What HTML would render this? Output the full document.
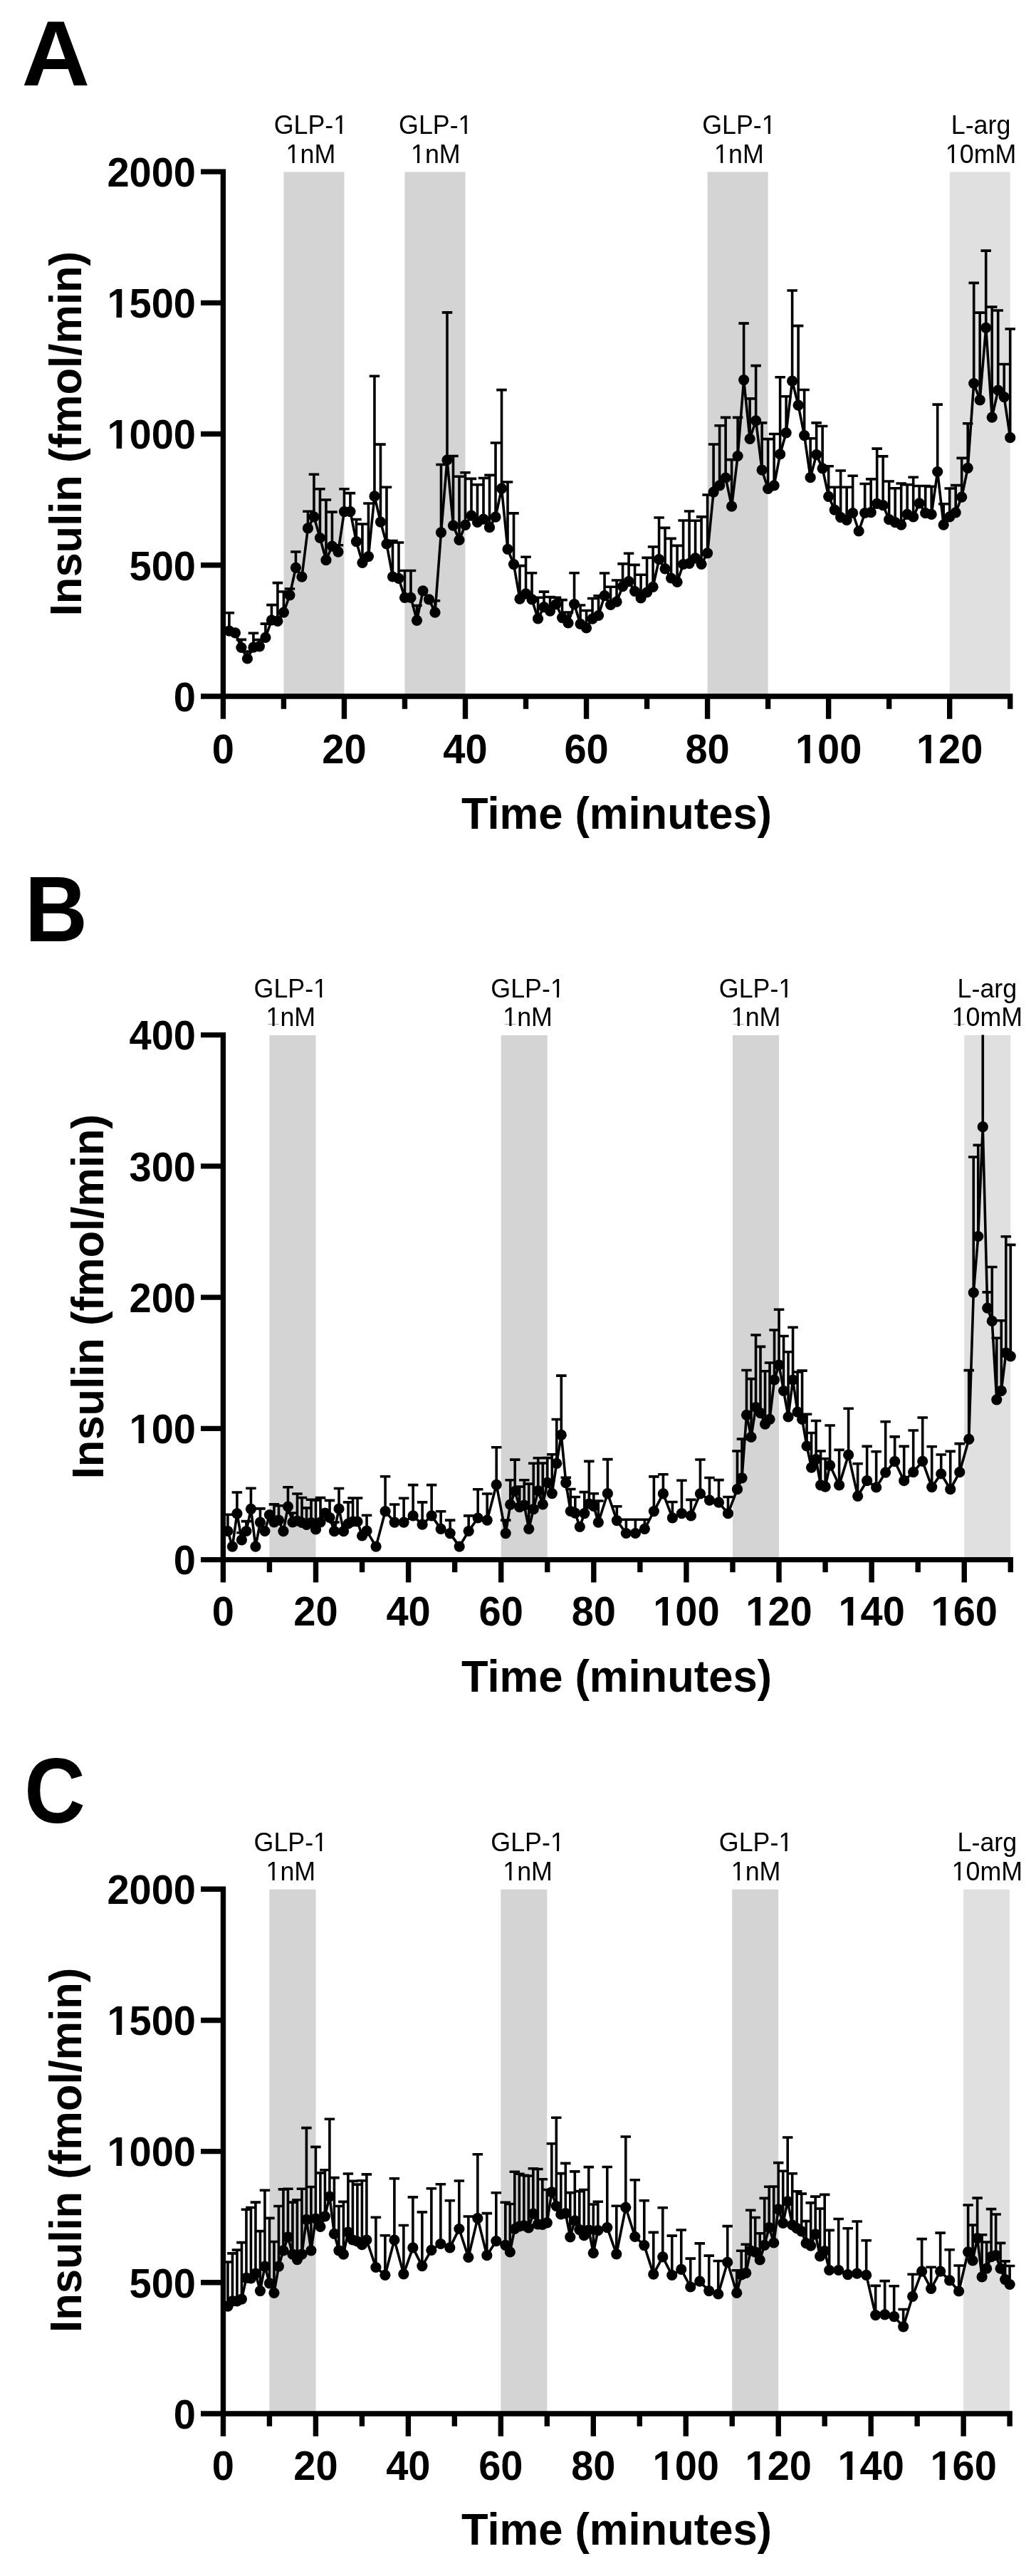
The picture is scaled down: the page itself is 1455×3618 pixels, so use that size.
<!DOCTYPE html>
<html><head><meta charset="utf-8"><style>
html,body{margin:0;padding:0;background:#fff;}
svg{display:block;will-change:transform;}
text{font-family:"Liberation Sans", sans-serif;fill:#000;}
</style></head><body>
<svg width="1455" height="3618" viewBox="0 0 1455 3618">
<rect x="398.42" y="241.50" width="85.02" height="736.50" fill="#d4d4d4"/>
<rect x="568.47" y="241.50" width="85.03" height="736.50" fill="#d4d4d4"/>
<rect x="993.60" y="241.50" width="85.03" height="736.50" fill="#d4d4d4"/>
<rect x="1333.70" y="241.50" width="85.03" height="736.50" fill="#e0e0e0"/>
<path d="M321.90 886.20V860.80M314.65 860.80H329.15M338.91 909.50V898.40M331.66 898.40H346.16M347.41 925.00V915.00M340.16 915.00H354.66M355.91 909.20V889.20M348.66 889.20H363.16M364.41 907.80V898.60M357.16 898.60H371.66M372.92 895.30V876.10M365.67 876.10H380.17M381.42 871.00V849.60M374.17 849.60H388.67M389.92 872.30V818.60M382.67 818.60H397.17M398.42 860.10V831.00M391.17 831.00H405.67M406.93 835.80V827.00M399.68 827.00H414.18M415.43 797.30V775.00M408.18 775.00H422.68M432.43 741.90V718.20M425.18 718.20H439.68M440.94 725.90V666.20M433.69 666.20H448.19M449.44 755.50V686.80M442.19 686.80H456.69M457.94 786.70V702.00M450.69 702.00H465.19M466.44 767.10V719.10M459.19 719.10H473.69M474.95 775.10V765.70M467.70 765.70H482.20M483.45 718.60V686.80M476.20 686.80H490.70M491.95 718.60V692.60M484.70 692.60H499.20M500.45 760.60V729.50M493.20 729.50H507.70M508.96 790.30V736.00M501.71 736.00H516.21M517.46 781.60V707.00M510.21 707.00H524.71M525.96 696.90V528.20M518.71 528.20H533.21M534.46 733.10V624.10M527.21 624.10H541.71M542.97 764.00V684.20M535.72 684.20H550.22M551.47 810.00V759.50M544.22 759.50H558.72M559.97 812.40V762.00M552.72 762.00H567.22M568.47 839.40V801.50M561.22 801.50H575.72M576.98 839.40V801.50M569.73 801.50H584.23M585.48 871.30V850.50M578.23 850.50H592.73M610.99 860.20V843.80M603.74 843.80H618.24M619.49 747.80V652.50M612.24 652.50H626.74M627.99 646.00V438.90M620.74 438.90H635.24M636.49 738.20V640.50M629.24 640.50H643.74M645.00 758.50V669.20M637.75 669.20H652.25M653.50 737.30V663.80M646.25 663.80H660.75M662.00 724.20V672.40M654.75 672.40H669.25M670.50 733.40V680.80M663.25 680.80H677.75M679.01 729.10V671.50M671.76 671.50H686.26M687.51 740.70V667.40M680.26 667.40H694.76M696.01 726.20V622.00M688.76 622.00H703.26M704.51 686.10V547.60M697.26 547.60H711.76M713.02 771.40V677.00M705.77 677.00H720.27M721.52 792.60V720.90M714.27 720.90H728.77M730.02 841.20V794.60M722.77 794.60H737.27M738.52 833.80V782.20M731.27 782.20H745.77M747.03 841.90V804.70M739.78 804.70H754.28M755.53 868.90V839.20M748.28 839.20H762.78M764.03 852.70V831.10M756.78 831.10H771.28M772.53 858.10V838.50M765.28 838.50H779.78M781.04 848.60V839.20M773.79 839.20H788.29M789.54 867.60V842.60M782.29 842.60H796.79M798.04 875.00V860.00M790.79 860.00H805.29M806.54 848.60V804.70M799.29 804.70H813.79M815.05 876.40V850.00M807.80 850.00H822.30M823.55 882.00V857.50M816.30 857.50H830.80M832.05 869.10V840.50M824.80 840.50H839.30M840.55 864.50V836.70M833.30 836.70H847.80M849.06 836.70V805.00M841.81 805.00H856.31M857.56 849.50V824.30M850.31 824.30H864.81M866.06 845.20V815.00M858.81 815.00H873.31M874.56 823.60V791.90M867.31 791.90H881.81M883.07 816.60V777.20M875.82 777.20H890.32M891.57 830.50V793.40M884.32 793.40H898.82M900.07 839.80V807.30M892.82 807.30H907.32M908.57 832.00V783.40M901.32 783.40H915.82M917.08 824.30V768.00M909.83 768.00H924.33M925.58 785.70V727.00M918.33 727.00H932.83M934.08 798.80V741.40M926.83 741.40H941.33M942.58 812.00V756.40M935.33 756.40H949.83M951.09 817.40V766.40M943.84 766.40H958.34M959.59 792.50V731.00M952.34 731.00H966.84M968.09 791.30V718.00M960.84 718.00H975.34M976.59 783.80V731.30M969.34 731.30H983.84M985.10 792.30V725.90M977.85 725.90H992.35M993.60 776.80V695.00M986.35 695.00H1000.85M1002.10 691.10V624.00M994.85 624.00H1009.35M1010.60 681.90V597.70M1003.35 597.70H1017.85M1019.11 671.00V586.40M1011.86 586.40H1026.36M1027.61 711.20V645.60M1020.36 645.60H1034.86M1036.11 640.50V586.40M1028.86 586.40H1043.36M1044.61 533.60V454.10M1037.36 454.10H1051.86M1053.12 616.30V559.90M1045.87 559.90H1060.37M1061.62 590.80V513.60M1054.37 513.60H1068.87M1070.12 660.20V593.90M1062.87 593.90H1077.37M1078.62 686.50V616.60M1071.38 616.60H1085.88M1087.13 681.90V609.50M1079.88 609.50H1094.38M1095.63 637.80V529.80M1088.38 529.80H1102.88M1104.13 607.80V556.80M1096.88 556.80H1111.38M1112.63 535.20V408.00M1105.38 408.00H1119.88M1121.14 569.20V457.60M1113.89 457.60H1128.39M1129.64 611.60V547.50M1122.39 547.50H1136.89M1138.14 670.70V615.80M1130.89 615.80H1145.39M1146.64 638.60V593.90M1139.39 593.90H1153.89M1155.15 657.90V598.50M1147.90 598.50H1162.40M1163.65 697.30V654.80M1156.40 654.80H1170.90M1172.15 716.10V684.20M1164.90 684.20H1179.40M1180.65 726.60V661.00M1173.40 661.00H1187.90M1189.16 730.50V684.20M1181.91 684.20H1196.41M1197.66 720.50V668.30M1190.41 668.30H1204.91M1214.66 720.50V679.50M1207.41 679.50H1221.91M1223.17 719.70V672.90M1215.92 672.90H1230.42M1231.67 707.30V630.10M1224.42 630.10H1238.92M1240.17 709.70V640.90M1232.92 640.90H1247.42M1248.67 729.70V676.00M1241.42 676.00H1255.92M1257.18 733.60V685.70M1249.93 685.70H1264.43M1265.68 737.20V679.00M1258.43 679.00H1272.93M1274.18 722.40V680.70M1266.93 680.70H1281.43M1282.68 725.90V670.30M1275.43 670.30H1289.93M1291.19 706.80V682.50M1283.94 682.50H1298.44M1299.69 720.70V682.50M1292.44 682.50H1306.94M1308.19 722.40V683.40M1300.94 683.40H1315.44M1316.69 662.50V568.10M1309.44 568.10H1323.94M1325.20 737.20V707.70M1317.95 707.70H1332.45M1333.70 725.90V686.00M1326.45 686.00H1340.95M1342.20 719.80V681.60M1334.95 681.60H1349.45M1350.70 698.10V643.40M1343.45 643.40H1357.95M1359.21 657.30V594.70M1351.96 594.70H1366.46M1367.71 538.50V397.40M1360.46 397.40H1374.96M1376.21 561.80V439.10M1368.96 439.10H1383.46M1384.71 460.30V352.10M1377.46 352.10H1391.96M1393.22 586.20V431.10M1385.97 431.10H1400.47M1401.72 548.00V436.00M1394.47 436.00H1408.97M1410.22 557.60V511.50M1402.97 511.50H1417.47M1418.72 614.70V462.00M1411.47 462.00H1425.97" stroke="#000" stroke-width="3.6" fill="none"/>
<path d="M321.90 886.20 L330.40 888.90 L338.91 909.50 L347.41 925.00 L355.91 909.20 L364.41 907.80 L372.92 895.30 L381.42 871.00 L389.92 872.30 L398.42 860.10 L406.93 835.80 L415.43 797.30 L423.93 810.10 L432.43 741.90 L440.94 725.90 L449.44 755.50 L457.94 786.70 L466.44 767.10 L474.95 775.10 L483.45 718.60 L491.95 718.60 L500.45 760.60 L508.96 790.30 L517.46 781.60 L525.96 696.90 L534.46 733.10 L542.97 764.00 L551.47 810.00 L559.97 812.40 L568.47 839.40 L576.98 839.40 L585.48 871.30 L593.98 829.80 L602.48 841.80 L610.99 860.20 L619.49 747.80 L627.99 646.00 L636.49 738.20 L645.00 758.50 L653.50 737.30 L662.00 724.20 L670.50 733.40 L679.01 729.10 L687.51 740.70 L696.01 726.20 L704.51 686.10 L713.02 771.40 L721.52 792.60 L730.02 841.20 L738.52 833.80 L747.03 841.90 L755.53 868.90 L764.03 852.70 L772.53 858.10 L781.04 848.60 L789.54 867.60 L798.04 875.00 L806.54 848.60 L815.05 876.40 L823.55 882.00 L832.05 869.10 L840.55 864.50 L849.06 836.70 L857.56 849.50 L866.06 845.20 L874.56 823.60 L883.07 816.60 L891.57 830.50 L900.07 839.80 L908.57 832.00 L917.08 824.30 L925.58 785.70 L934.08 798.80 L942.58 812.00 L951.09 817.40 L959.59 792.50 L968.09 791.30 L976.59 783.80 L985.10 792.30 L993.60 776.80 L1002.10 691.10 L1010.60 681.90 L1019.11 671.00 L1027.61 711.20 L1036.11 640.50 L1044.61 533.60 L1053.12 616.30 L1061.62 590.80 L1070.12 660.20 L1078.62 686.50 L1087.13 681.90 L1095.63 637.80 L1104.13 607.80 L1112.63 535.20 L1121.14 569.20 L1129.64 611.60 L1138.14 670.70 L1146.64 638.60 L1155.15 657.90 L1163.65 697.30 L1172.15 716.10 L1180.65 726.60 L1189.16 730.50 L1197.66 720.50 L1206.16 746.00 L1214.66 720.50 L1223.17 719.70 L1231.67 707.30 L1240.17 709.70 L1248.67 729.70 L1257.18 733.60 L1265.68 737.20 L1274.18 722.40 L1282.68 725.90 L1291.19 706.80 L1299.69 720.70 L1308.19 722.40 L1316.69 662.50 L1325.20 737.20 L1333.70 725.90 L1342.20 719.80 L1350.70 698.10 L1359.21 657.30 L1367.71 538.50 L1376.21 561.80 L1384.71 460.30 L1393.22 586.20 L1401.72 548.00 L1410.22 557.60 L1418.72 614.70" stroke="#000" stroke-width="3.6" fill="none" stroke-linejoin="round"/>
<g fill="#000"><circle cx="321.90" cy="886.20" r="7.6"/><circle cx="330.40" cy="888.90" r="7.6"/><circle cx="338.91" cy="909.50" r="7.6"/><circle cx="347.41" cy="925.00" r="7.6"/><circle cx="355.91" cy="909.20" r="7.6"/><circle cx="364.41" cy="907.80" r="7.6"/><circle cx="372.92" cy="895.30" r="7.6"/><circle cx="381.42" cy="871.00" r="7.6"/><circle cx="389.92" cy="872.30" r="7.6"/><circle cx="398.42" cy="860.10" r="7.6"/><circle cx="406.93" cy="835.80" r="7.6"/><circle cx="415.43" cy="797.30" r="7.6"/><circle cx="423.93" cy="810.10" r="7.6"/><circle cx="432.43" cy="741.90" r="7.6"/><circle cx="440.94" cy="725.90" r="7.6"/><circle cx="449.44" cy="755.50" r="7.6"/><circle cx="457.94" cy="786.70" r="7.6"/><circle cx="466.44" cy="767.10" r="7.6"/><circle cx="474.95" cy="775.10" r="7.6"/><circle cx="483.45" cy="718.60" r="7.6"/><circle cx="491.95" cy="718.60" r="7.6"/><circle cx="500.45" cy="760.60" r="7.6"/><circle cx="508.96" cy="790.30" r="7.6"/><circle cx="517.46" cy="781.60" r="7.6"/><circle cx="525.96" cy="696.90" r="7.6"/><circle cx="534.46" cy="733.10" r="7.6"/><circle cx="542.97" cy="764.00" r="7.6"/><circle cx="551.47" cy="810.00" r="7.6"/><circle cx="559.97" cy="812.40" r="7.6"/><circle cx="568.47" cy="839.40" r="7.6"/><circle cx="576.98" cy="839.40" r="7.6"/><circle cx="585.48" cy="871.30" r="7.6"/><circle cx="593.98" cy="829.80" r="7.6"/><circle cx="602.48" cy="841.80" r="7.6"/><circle cx="610.99" cy="860.20" r="7.6"/><circle cx="619.49" cy="747.80" r="7.6"/><circle cx="627.99" cy="646.00" r="7.6"/><circle cx="636.49" cy="738.20" r="7.6"/><circle cx="645.00" cy="758.50" r="7.6"/><circle cx="653.50" cy="737.30" r="7.6"/><circle cx="662.00" cy="724.20" r="7.6"/><circle cx="670.50" cy="733.40" r="7.6"/><circle cx="679.01" cy="729.10" r="7.6"/><circle cx="687.51" cy="740.70" r="7.6"/><circle cx="696.01" cy="726.20" r="7.6"/><circle cx="704.51" cy="686.10" r="7.6"/><circle cx="713.02" cy="771.40" r="7.6"/><circle cx="721.52" cy="792.60" r="7.6"/><circle cx="730.02" cy="841.20" r="7.6"/><circle cx="738.52" cy="833.80" r="7.6"/><circle cx="747.03" cy="841.90" r="7.6"/><circle cx="755.53" cy="868.90" r="7.6"/><circle cx="764.03" cy="852.70" r="7.6"/><circle cx="772.53" cy="858.10" r="7.6"/><circle cx="781.04" cy="848.60" r="7.6"/><circle cx="789.54" cy="867.60" r="7.6"/><circle cx="798.04" cy="875.00" r="7.6"/><circle cx="806.54" cy="848.60" r="7.6"/><circle cx="815.05" cy="876.40" r="7.6"/><circle cx="823.55" cy="882.00" r="7.6"/><circle cx="832.05" cy="869.10" r="7.6"/><circle cx="840.55" cy="864.50" r="7.6"/><circle cx="849.06" cy="836.70" r="7.6"/><circle cx="857.56" cy="849.50" r="7.6"/><circle cx="866.06" cy="845.20" r="7.6"/><circle cx="874.56" cy="823.60" r="7.6"/><circle cx="883.07" cy="816.60" r="7.6"/><circle cx="891.57" cy="830.50" r="7.6"/><circle cx="900.07" cy="839.80" r="7.6"/><circle cx="908.57" cy="832.00" r="7.6"/><circle cx="917.08" cy="824.30" r="7.6"/><circle cx="925.58" cy="785.70" r="7.6"/><circle cx="934.08" cy="798.80" r="7.6"/><circle cx="942.58" cy="812.00" r="7.6"/><circle cx="951.09" cy="817.40" r="7.6"/><circle cx="959.59" cy="792.50" r="7.6"/><circle cx="968.09" cy="791.30" r="7.6"/><circle cx="976.59" cy="783.80" r="7.6"/><circle cx="985.10" cy="792.30" r="7.6"/><circle cx="993.60" cy="776.80" r="7.6"/><circle cx="1002.10" cy="691.10" r="7.6"/><circle cx="1010.60" cy="681.90" r="7.6"/><circle cx="1019.11" cy="671.00" r="7.6"/><circle cx="1027.61" cy="711.20" r="7.6"/><circle cx="1036.11" cy="640.50" r="7.6"/><circle cx="1044.61" cy="533.60" r="7.6"/><circle cx="1053.12" cy="616.30" r="7.6"/><circle cx="1061.62" cy="590.80" r="7.6"/><circle cx="1070.12" cy="660.20" r="7.6"/><circle cx="1078.62" cy="686.50" r="7.6"/><circle cx="1087.13" cy="681.90" r="7.6"/><circle cx="1095.63" cy="637.80" r="7.6"/><circle cx="1104.13" cy="607.80" r="7.6"/><circle cx="1112.63" cy="535.20" r="7.6"/><circle cx="1121.14" cy="569.20" r="7.6"/><circle cx="1129.64" cy="611.60" r="7.6"/><circle cx="1138.14" cy="670.70" r="7.6"/><circle cx="1146.64" cy="638.60" r="7.6"/><circle cx="1155.15" cy="657.90" r="7.6"/><circle cx="1163.65" cy="697.30" r="7.6"/><circle cx="1172.15" cy="716.10" r="7.6"/><circle cx="1180.65" cy="726.60" r="7.6"/><circle cx="1189.16" cy="730.50" r="7.6"/><circle cx="1197.66" cy="720.50" r="7.6"/><circle cx="1206.16" cy="746.00" r="7.6"/><circle cx="1214.66" cy="720.50" r="7.6"/><circle cx="1223.17" cy="719.70" r="7.6"/><circle cx="1231.67" cy="707.30" r="7.6"/><circle cx="1240.17" cy="709.70" r="7.6"/><circle cx="1248.67" cy="729.70" r="7.6"/><circle cx="1257.18" cy="733.60" r="7.6"/><circle cx="1265.68" cy="737.20" r="7.6"/><circle cx="1274.18" cy="722.40" r="7.6"/><circle cx="1282.68" cy="725.90" r="7.6"/><circle cx="1291.19" cy="706.80" r="7.6"/><circle cx="1299.69" cy="720.70" r="7.6"/><circle cx="1308.19" cy="722.40" r="7.6"/><circle cx="1316.69" cy="662.50" r="7.6"/><circle cx="1325.20" cy="737.20" r="7.6"/><circle cx="1333.70" cy="725.90" r="7.6"/><circle cx="1342.20" cy="719.80" r="7.6"/><circle cx="1350.70" cy="698.10" r="7.6"/><circle cx="1359.21" cy="657.30" r="7.6"/><circle cx="1367.71" cy="538.50" r="7.6"/><circle cx="1376.21" cy="561.80" r="7.6"/><circle cx="1384.71" cy="460.30" r="7.6"/><circle cx="1393.22" cy="586.20" r="7.6"/><circle cx="1401.72" cy="548.00" r="7.6"/><circle cx="1410.22" cy="557.60" r="7.6"/><circle cx="1418.72" cy="614.70" r="7.6"/></g>
<path d="M313.40 237.40V981.70M309.70 978.00H1422.42M282.0 978.00H313.40M282.0 793.77H313.40M282.0 609.55H313.40M282.0 425.33H313.40M282.0 241.10H313.40M313.40 978.00V1009.80M398.42 978.00V995.70M483.45 978.00V1009.80M568.47 978.00V995.70M653.50 978.00V1009.80M738.52 978.00V995.70M823.55 978.00V1009.80M908.57 978.00V995.70M993.60 978.00V1009.80M1078.62 978.00V995.70M1163.65 978.00V1009.80M1248.67 978.00V995.70M1333.70 978.00V1009.80M1418.72 978.00V995.70" stroke="#000" stroke-width="7.4" fill="none" stroke-linecap="butt"/>
<text x="275.00" y="998.80" font-size="56" font-weight="bold" text-anchor="end" transform="translate(275.0 998.8) scale(1.0 1.04) translate(-275.0 -998.8)">0</text>
<text x="275.00" y="814.57" font-size="56" font-weight="bold" text-anchor="end" transform="translate(275.0 814.5749999999999) scale(1.0 1.04) translate(-275.0 -814.5749999999999)">500</text>
<text x="275.00" y="630.35" font-size="56" font-weight="bold" text-anchor="end" transform="translate(275.0 630.3499999999999) scale(1.0 1.04) translate(-275.0 -630.3499999999999)">1000</text>
<text x="275.00" y="446.13" font-size="56" font-weight="bold" text-anchor="end" transform="translate(275.0 446.12500000000006) scale(1.0 1.04) translate(-275.0 -446.12500000000006)">1500</text>
<text x="275.00" y="261.90" font-size="56" font-weight="bold" text-anchor="end" transform="translate(275.0 261.90000000000003) scale(1.0 1.04) translate(-275.0 -261.90000000000003)">2000</text>
<text x="313.40" y="1071.60" font-size="56" font-weight="bold" text-anchor="middle" transform="translate(313.4 1071.6) scale(1.0 1.04) translate(-313.4 -1071.6)">0</text>
<text x="483.45" y="1071.60" font-size="56" font-weight="bold" text-anchor="middle" transform="translate(483.44999999999993 1071.6) scale(1.0 1.04) translate(-483.44999999999993 -1071.6)">20</text>
<text x="653.50" y="1071.60" font-size="56" font-weight="bold" text-anchor="middle" transform="translate(653.5 1071.6) scale(1.0 1.04) translate(-653.5 -1071.6)">40</text>
<text x="823.55" y="1071.60" font-size="56" font-weight="bold" text-anchor="middle" transform="translate(823.55 1071.6) scale(1.0 1.04) translate(-823.55 -1071.6)">60</text>
<text x="993.60" y="1071.60" font-size="56" font-weight="bold" text-anchor="middle" transform="translate(993.5999999999999 1071.6) scale(1.0 1.04) translate(-993.5999999999999 -1071.6)">80</text>
<text x="1163.65" y="1071.60" font-size="56" font-weight="bold" text-anchor="middle" transform="translate(1163.65 1071.6) scale(1.0 1.04) translate(-1163.65 -1071.6)">100</text>
<text x="1333.70" y="1071.60" font-size="56" font-weight="bold" text-anchor="middle" transform="translate(1333.6999999999998 1071.6) scale(1.0 1.04) translate(-1333.6999999999998 -1071.6)">120</text>
<text x="866.00" y="1163.90" font-size="61.5" font-weight="bold" text-anchor="middle" transform="translate(866.0 1163.9) scale(1.0 1.03) translate(-866.0 -1163.9)">Time (minutes)</text>
<text x="114.40" y="609.10" font-size="61.5" font-weight="bold" text-anchor="middle" transform="rotate(-90 114.4 609.1) translate(114.4 609.1) scale(1.0 1.03) translate(-114.4 -609.1)">Insulin (fmol/min)</text>
<text x="436.45" y="188.00" font-size="35.8" font-weight="normal" text-anchor="middle" transform="translate(436.45 188.0) scale(1.0 1.04) translate(-436.45 -188.0)">GLP-1</text>
<text x="436.45" y="228.80" font-size="35.8" font-weight="normal" text-anchor="middle" transform="translate(436.45 228.8) scale(1.0 1.04) translate(-436.45 -228.8)">1nM</text>
<text x="611.80" y="188.00" font-size="35.8" font-weight="normal" text-anchor="middle" transform="translate(611.8 188.0) scale(1.0 1.04) translate(-611.8 -188.0)">GLP-1</text>
<text x="611.80" y="228.80" font-size="35.8" font-weight="normal" text-anchor="middle" transform="translate(611.8 228.8) scale(1.0 1.04) translate(-611.8 -228.8)">1nM</text>
<text x="1037.95" y="188.00" font-size="35.8" font-weight="normal" text-anchor="middle" transform="translate(1037.95 188.0) scale(1.0 1.04) translate(-1037.95 -188.0)">GLP-1</text>
<text x="1037.95" y="228.80" font-size="35.8" font-weight="normal" text-anchor="middle" transform="translate(1037.95 228.8) scale(1.0 1.04) translate(-1037.95 -228.8)">1nM</text>
<text x="1377.55" y="188.00" font-size="35.8" font-weight="normal" text-anchor="middle" transform="translate(1377.55 188.0) scale(1.0 1.04) translate(-1377.55 -188.0)">L-arg</text>
<text x="1377.55" y="228.80" font-size="35.8" font-weight="normal" text-anchor="middle" transform="translate(1377.55 228.8) scale(1.0 1.04) translate(-1377.55 -228.8)">10mM</text>
<text x="30.40" y="119.80" font-size="130" font-weight="bold" text-anchor="start" transform="translate(30.4 119.8) scale(1.02 1.0) translate(-30.4 -119.8)">A</text>
<rect x="378.45" y="1454.00" width="65.05" height="736.60" fill="#d4d4d4"/>
<rect x="703.72" y="1454.00" width="65.05" height="736.60" fill="#d4d4d4"/>
<rect x="1028.98" y="1454.00" width="65.05" height="736.60" fill="#d4d4d4"/>
<rect x="1354.25" y="1454.00" width="65.05" height="736.60" fill="#e0e0e0"/>
<path d="M319.91 2150.50V2127.30M312.66 2127.30H327.16M332.92 2125.80V2096.00M325.67 2096.00H340.17M339.42 2162.90V2152.80M332.17 2152.80H346.67M345.93 2150.50V2136.60M338.68 2136.60H353.18M352.43 2119.30V2090.30M345.18 2090.30H359.68M365.44 2138.10V2118.90M358.19 2118.90H372.69M384.96 2138.00V2112.90M377.71 2112.90H392.21M391.46 2135.00V2114.80M384.21 2114.80H398.71M404.47 2116.00V2088.80M397.22 2088.80H411.72M410.98 2138.00V2125.00M403.73 2125.00H418.23M417.48 2136.00V2098.00M410.23 2098.00H424.73M423.99 2138.50V2103.50M416.74 2103.50H431.24M430.50 2141.50V2117.90M423.25 2117.90H437.75M437.00 2138.50V2106.30M429.75 2106.30H444.25M443.51 2148.00V2107.00M436.26 2107.00H450.76M450.01 2138.00V2103.60M442.76 2103.60H457.26M463.02 2131.50V2107.40M455.77 2107.40H470.27M469.53 2150.70V2138.00M462.28 2138.00H476.78M476.03 2119.00V2090.50M468.78 2090.50H483.28M489.04 2140.00V2109.90M481.79 2109.90H496.29M495.55 2137.00V2104.00M488.30 2104.00H502.80M502.05 2137.00V2104.00M494.80 2104.00H509.30M515.06 2150.20V2128.20M507.81 2128.20H522.31M541.09 2122.70V2073.70M533.84 2073.70H548.34M554.10 2138.10V2113.00M546.85 2113.00H561.35M567.11 2138.10V2104.20M559.86 2104.20H574.36M580.12 2128.90V2085.60M572.87 2085.60H587.37M593.13 2141.20V2109.90M585.88 2109.90H600.38M606.14 2128.90V2085.60M598.89 2085.60H613.39M619.15 2147.40V2122.70M611.90 2122.70H626.40M632.16 2153.60V2135.10M624.91 2135.10H639.41M658.18 2150.50V2128.90M650.93 2128.90H665.43M671.19 2132.00V2091.80M663.94 2091.80H678.44M684.20 2135.10V2098.00M676.95 2098.00H691.45M697.21 2085.30V2032.70M689.96 2032.70H704.46M710.22 2153.60V2135.10M702.97 2135.10H717.47M716.73 2113.20V2078.70M709.48 2078.70H723.98M723.23 2094.50V2050.10M715.98 2050.10H730.48M729.74 2116.70V2088.00M722.49 2088.00H736.99M736.24 2114.10V2078.70M728.99 2078.70H743.49M742.75 2147.40V2084.10M735.50 2084.10H750.00M749.26 2119.70V2055.20M742.01 2055.20H756.51M755.76 2093.90V2047.80M748.51 2047.80H763.01M762.27 2113.00V2055.00M755.02 2055.00H769.52M768.77 2082.40V2047.60M761.52 2047.60H776.02M775.28 2097.60V2042.80M768.03 2042.80H782.53M781.78 2055.30V1993.50M774.53 1993.50H789.03M788.29 2015.40V1932.10M781.04 1932.10H795.54M794.79 2082.70V2075.30M787.54 2075.30H802.04M801.30 2122.50V2091.50M794.05 2091.50H808.55M807.80 2125.20V2102.50M800.55 2102.50H815.05M820.81 2125.60V2095.60M813.56 2095.60H828.06M827.32 2112.00V2052.40M820.07 2052.40H834.57M833.82 2115.50V2097.70M826.57 2097.70H841.07M840.33 2138.20V2108.00M833.08 2108.00H847.58M853.34 2097.70V2049.60M846.09 2049.60H860.59M866.35 2135.60V2115.70M859.10 2115.70H873.60M879.36 2153.50V2134.20M872.11 2134.20H886.61M892.37 2153.50V2134.20M885.12 2134.20H899.62M905.38 2147.30V2134.20M898.13 2134.20H912.63M918.39 2122.60V2073.90M911.14 2073.90H925.64M931.40 2097.90V2070.80M924.15 2070.80H938.65M944.41 2131.90V2109.50M937.16 2109.50H951.66M957.42 2125.70V2079.30M950.17 2079.30H964.67M970.44 2128.80V2106.40M963.19 2106.40H977.69M983.45 2097.90V2050.00M976.20 2050.00H990.70M996.46 2107.10V2075.50M989.21 2075.50H1003.71M1009.47 2110.20V2078.60M1002.22 2078.60H1016.72M1022.48 2125.70V2102.50M1015.23 2102.50H1029.73M1035.49 2091.70V2038.00M1028.24 2038.00H1042.74M1041.99 2075.80V2021.10M1034.74 2021.10H1049.24M1048.50 1987.30V1924.50M1041.25 1924.50H1055.75M1055.00 2018.40V1936.60M1047.75 1936.60H1062.25M1061.51 1976.50V1875.00M1054.26 1875.00H1068.76M1068.01 1984.60V1891.40M1060.76 1891.40H1075.26M1074.52 2000.10V1925.80M1067.27 1925.80H1081.77M1081.03 1993.40V1914.00M1073.78 1914.00H1088.28M1087.53 1938.00V1868.00M1080.28 1868.00H1094.78M1094.04 1917.00V1839.30M1086.79 1839.30H1101.29M1100.54 1953.50V1876.50M1093.29 1876.50H1107.79M1107.05 1990.00V1898.80M1099.80 1898.80H1114.30M1113.55 1938.00V1864.30M1106.30 1864.30H1120.80M1120.06 1983.20V1927.00M1112.81 1927.00H1127.31M1126.56 1993.40V1925.10M1119.31 1925.10H1133.81M1133.07 2031.00V1986.30M1125.82 1986.30H1140.32M1139.57 2061.20V2012.50M1132.32 2012.50H1146.82M1146.08 2049.60V1995.50M1138.83 1995.50H1153.33M1152.58 2085.90V2038.00M1145.33 2038.00H1159.83M1159.09 2088.20V2048.80M1151.84 2048.80H1166.34M1165.59 2058.10V2002.00M1158.34 2002.00H1172.84M1178.60 2085.90V2036.40M1171.35 2036.40H1185.85M1191.62 2043.40V1978.20M1184.37 1978.20H1198.87M1204.63 2101.30V2055.80M1197.38 2055.80H1211.88M1217.64 2079.70V2031.40M1210.39 2031.40H1224.89M1230.65 2089.00V2038.80M1223.40 2038.80H1237.90M1243.66 2068.10V1996.80M1236.41 1996.80H1250.91M1256.67 2052.70V2017.90M1249.42 2017.90H1263.92M1269.68 2079.70V2031.40M1262.43 2031.40H1276.93M1282.69 2067.70V2009.00M1275.44 2009.00H1289.94M1295.70 2052.30V1991.00M1288.45 1991.00H1302.95M1308.71 2088.60V2031.70M1301.46 2031.70H1315.96M1321.72 2070.00V2043.00M1314.47 2043.00H1328.97M1334.73 2091.70V2038.40M1327.48 2038.40H1341.98M1347.74 2067.70V2027.60M1340.49 2027.60H1354.99M1360.75 2021.40V1924.60M1353.50 1924.60H1368.00M1367.26 1815.50V1625.00M1360.01 1625.00H1374.51M1373.76 1736.50V1608.40M1366.51 1608.40H1381.01M1380.27 1582.70V1453.60M1386.77 1837.20V1814.90M1379.52 1814.90H1394.02M1393.28 1855.40V1779.50M1386.03 1779.50H1400.53M1399.79 1965.80V1879.30M1392.54 1879.30H1407.04M1406.29 1953.40V1854.70M1399.04 1854.70H1413.54M1412.80 1900.20V1736.80M1405.55 1736.80H1420.05M1419.30 1904.80V1748.40M1412.05 1748.40H1426.55" stroke="#000" stroke-width="3.6" fill="none"/>
<path d="M319.91 2150.50 L326.41 2172.10 L332.92 2125.80 L339.42 2162.90 L345.93 2150.50 L352.43 2119.30 L358.94 2172.10 L365.44 2138.10 L371.95 2150.50 L378.45 2127.70 L384.96 2138.00 L391.46 2135.00 L397.97 2150.70 L404.47 2116.00 L410.98 2138.00 L417.48 2136.00 L423.99 2138.50 L430.50 2141.50 L437.00 2138.50 L443.51 2148.00 L450.01 2138.00 L456.52 2125.00 L463.02 2131.50 L469.53 2150.70 L476.03 2119.00 L482.54 2150.70 L489.04 2140.00 L495.55 2137.00 L502.05 2137.00 L508.56 2157.00 L515.06 2150.20 L528.07 2172.10 L541.09 2122.70 L554.10 2138.10 L567.11 2138.10 L580.12 2128.90 L593.13 2141.20 L606.14 2128.90 L619.15 2147.40 L632.16 2153.60 L645.17 2172.10 L658.18 2150.50 L671.19 2132.00 L684.20 2135.10 L697.21 2085.30 L710.22 2153.60 L716.73 2113.20 L723.23 2094.50 L729.74 2116.70 L736.24 2114.10 L742.75 2147.40 L749.26 2119.70 L755.76 2093.90 L762.27 2113.00 L768.77 2082.40 L775.28 2097.60 L781.78 2055.30 L788.29 2015.40 L794.79 2082.70 L801.30 2122.50 L807.80 2125.20 L814.31 2144.30 L820.81 2125.60 L827.32 2112.00 L833.82 2115.50 L840.33 2138.20 L853.34 2097.70 L866.35 2135.60 L879.36 2153.50 L892.37 2153.50 L905.38 2147.30 L918.39 2122.60 L931.40 2097.90 L944.41 2131.90 L957.42 2125.70 L970.44 2128.80 L983.45 2097.90 L996.46 2107.10 L1009.47 2110.20 L1022.48 2125.70 L1035.49 2091.70 L1041.99 2075.80 L1048.50 1987.30 L1055.00 2018.40 L1061.51 1976.50 L1068.01 1984.60 L1074.52 2000.10 L1081.03 1993.40 L1087.53 1938.00 L1094.04 1917.00 L1100.54 1953.50 L1107.05 1990.00 L1113.55 1938.00 L1120.06 1983.20 L1126.56 1993.40 L1133.07 2031.00 L1139.57 2061.20 L1146.08 2049.60 L1152.58 2085.90 L1159.09 2088.20 L1165.59 2058.10 L1178.60 2085.90 L1191.62 2043.40 L1204.63 2101.30 L1217.64 2079.70 L1230.65 2089.00 L1243.66 2068.10 L1256.67 2052.70 L1269.68 2079.70 L1282.69 2067.70 L1295.70 2052.30 L1308.71 2088.60 L1321.72 2070.00 L1334.73 2091.70 L1347.74 2067.70 L1360.75 2021.40 L1367.26 1815.50 L1373.76 1736.50 L1380.27 1582.70 L1386.77 1837.20 L1393.28 1855.40 L1399.79 1965.80 L1406.29 1953.40 L1412.80 1900.20 L1419.30 1904.80" stroke="#000" stroke-width="3.6" fill="none" stroke-linejoin="round"/>
<g fill="#000"><circle cx="319.91" cy="2150.50" r="7.6"/><circle cx="326.41" cy="2172.10" r="7.6"/><circle cx="332.92" cy="2125.80" r="7.6"/><circle cx="339.42" cy="2162.90" r="7.6"/><circle cx="345.93" cy="2150.50" r="7.6"/><circle cx="352.43" cy="2119.30" r="7.6"/><circle cx="358.94" cy="2172.10" r="7.6"/><circle cx="365.44" cy="2138.10" r="7.6"/><circle cx="371.95" cy="2150.50" r="7.6"/><circle cx="378.45" cy="2127.70" r="7.6"/><circle cx="384.96" cy="2138.00" r="7.6"/><circle cx="391.46" cy="2135.00" r="7.6"/><circle cx="397.97" cy="2150.70" r="7.6"/><circle cx="404.47" cy="2116.00" r="7.6"/><circle cx="410.98" cy="2138.00" r="7.6"/><circle cx="417.48" cy="2136.00" r="7.6"/><circle cx="423.99" cy="2138.50" r="7.6"/><circle cx="430.50" cy="2141.50" r="7.6"/><circle cx="437.00" cy="2138.50" r="7.6"/><circle cx="443.51" cy="2148.00" r="7.6"/><circle cx="450.01" cy="2138.00" r="7.6"/><circle cx="456.52" cy="2125.00" r="7.6"/><circle cx="463.02" cy="2131.50" r="7.6"/><circle cx="469.53" cy="2150.70" r="7.6"/><circle cx="476.03" cy="2119.00" r="7.6"/><circle cx="482.54" cy="2150.70" r="7.6"/><circle cx="489.04" cy="2140.00" r="7.6"/><circle cx="495.55" cy="2137.00" r="7.6"/><circle cx="502.05" cy="2137.00" r="7.6"/><circle cx="508.56" cy="2157.00" r="7.6"/><circle cx="515.06" cy="2150.20" r="7.6"/><circle cx="528.07" cy="2172.10" r="7.6"/><circle cx="541.09" cy="2122.70" r="7.6"/><circle cx="554.10" cy="2138.10" r="7.6"/><circle cx="567.11" cy="2138.10" r="7.6"/><circle cx="580.12" cy="2128.90" r="7.6"/><circle cx="593.13" cy="2141.20" r="7.6"/><circle cx="606.14" cy="2128.90" r="7.6"/><circle cx="619.15" cy="2147.40" r="7.6"/><circle cx="632.16" cy="2153.60" r="7.6"/><circle cx="645.17" cy="2172.10" r="7.6"/><circle cx="658.18" cy="2150.50" r="7.6"/><circle cx="671.19" cy="2132.00" r="7.6"/><circle cx="684.20" cy="2135.10" r="7.6"/><circle cx="697.21" cy="2085.30" r="7.6"/><circle cx="710.22" cy="2153.60" r="7.6"/><circle cx="716.73" cy="2113.20" r="7.6"/><circle cx="723.23" cy="2094.50" r="7.6"/><circle cx="729.74" cy="2116.70" r="7.6"/><circle cx="736.24" cy="2114.10" r="7.6"/><circle cx="742.75" cy="2147.40" r="7.6"/><circle cx="749.26" cy="2119.70" r="7.6"/><circle cx="755.76" cy="2093.90" r="7.6"/><circle cx="762.27" cy="2113.00" r="7.6"/><circle cx="768.77" cy="2082.40" r="7.6"/><circle cx="775.28" cy="2097.60" r="7.6"/><circle cx="781.78" cy="2055.30" r="7.6"/><circle cx="788.29" cy="2015.40" r="7.6"/><circle cx="794.79" cy="2082.70" r="7.6"/><circle cx="801.30" cy="2122.50" r="7.6"/><circle cx="807.80" cy="2125.20" r="7.6"/><circle cx="814.31" cy="2144.30" r="7.6"/><circle cx="820.81" cy="2125.60" r="7.6"/><circle cx="827.32" cy="2112.00" r="7.6"/><circle cx="833.82" cy="2115.50" r="7.6"/><circle cx="840.33" cy="2138.20" r="7.6"/><circle cx="853.34" cy="2097.70" r="7.6"/><circle cx="866.35" cy="2135.60" r="7.6"/><circle cx="879.36" cy="2153.50" r="7.6"/><circle cx="892.37" cy="2153.50" r="7.6"/><circle cx="905.38" cy="2147.30" r="7.6"/><circle cx="918.39" cy="2122.60" r="7.6"/><circle cx="931.40" cy="2097.90" r="7.6"/><circle cx="944.41" cy="2131.90" r="7.6"/><circle cx="957.42" cy="2125.70" r="7.6"/><circle cx="970.44" cy="2128.80" r="7.6"/><circle cx="983.45" cy="2097.90" r="7.6"/><circle cx="996.46" cy="2107.10" r="7.6"/><circle cx="1009.47" cy="2110.20" r="7.6"/><circle cx="1022.48" cy="2125.70" r="7.6"/><circle cx="1035.49" cy="2091.70" r="7.6"/><circle cx="1041.99" cy="2075.80" r="7.6"/><circle cx="1048.50" cy="1987.30" r="7.6"/><circle cx="1055.00" cy="2018.40" r="7.6"/><circle cx="1061.51" cy="1976.50" r="7.6"/><circle cx="1068.01" cy="1984.60" r="7.6"/><circle cx="1074.52" cy="2000.10" r="7.6"/><circle cx="1081.03" cy="1993.40" r="7.6"/><circle cx="1087.53" cy="1938.00" r="7.6"/><circle cx="1094.04" cy="1917.00" r="7.6"/><circle cx="1100.54" cy="1953.50" r="7.6"/><circle cx="1107.05" cy="1990.00" r="7.6"/><circle cx="1113.55" cy="1938.00" r="7.6"/><circle cx="1120.06" cy="1983.20" r="7.6"/><circle cx="1126.56" cy="1993.40" r="7.6"/><circle cx="1133.07" cy="2031.00" r="7.6"/><circle cx="1139.57" cy="2061.20" r="7.6"/><circle cx="1146.08" cy="2049.60" r="7.6"/><circle cx="1152.58" cy="2085.90" r="7.6"/><circle cx="1159.09" cy="2088.20" r="7.6"/><circle cx="1165.59" cy="2058.10" r="7.6"/><circle cx="1178.60" cy="2085.90" r="7.6"/><circle cx="1191.62" cy="2043.40" r="7.6"/><circle cx="1204.63" cy="2101.30" r="7.6"/><circle cx="1217.64" cy="2079.70" r="7.6"/><circle cx="1230.65" cy="2089.00" r="7.6"/><circle cx="1243.66" cy="2068.10" r="7.6"/><circle cx="1256.67" cy="2052.70" r="7.6"/><circle cx="1269.68" cy="2079.70" r="7.6"/><circle cx="1282.69" cy="2067.70" r="7.6"/><circle cx="1295.70" cy="2052.30" r="7.6"/><circle cx="1308.71" cy="2088.60" r="7.6"/><circle cx="1321.72" cy="2070.00" r="7.6"/><circle cx="1334.73" cy="2091.70" r="7.6"/><circle cx="1347.74" cy="2067.70" r="7.6"/><circle cx="1360.75" cy="2021.40" r="7.6"/><circle cx="1367.26" cy="1815.50" r="7.6"/><circle cx="1373.76" cy="1736.50" r="7.6"/><circle cx="1380.27" cy="1582.70" r="7.6"/><circle cx="1386.77" cy="1837.20" r="7.6"/><circle cx="1393.28" cy="1855.40" r="7.6"/><circle cx="1399.79" cy="1965.80" r="7.6"/><circle cx="1406.29" cy="1953.40" r="7.6"/><circle cx="1412.80" cy="1900.20" r="7.6"/><circle cx="1419.30" cy="1904.80" r="7.6"/></g>
<path d="M313.40 1449.90V2194.30M309.70 2190.60H1423.00M282.0 2190.60H313.40M282.0 2006.35H313.40M282.0 1822.10H313.40M282.0 1637.85H313.40M282.0 1453.60H313.40M313.40 2190.60V2222.40M378.45 2190.60V2208.30M443.51 2190.60V2222.40M508.56 2190.60V2208.30M573.61 2190.60V2222.40M638.66 2190.60V2208.30M703.72 2190.60V2222.40M768.77 2190.60V2208.30M833.82 2190.60V2222.40M898.88 2190.60V2208.30M963.93 2190.60V2222.40M1028.98 2190.60V2208.30M1094.04 2190.60V2222.40M1159.09 2190.60V2208.30M1224.14 2190.60V2222.40M1289.19 2190.60V2208.30M1354.25 2190.60V2222.40M1419.30 2190.60V2208.30" stroke="#000" stroke-width="7.4" fill="none" stroke-linecap="butt"/>
<text x="275.00" y="2211.40" font-size="56" font-weight="bold" text-anchor="end" transform="translate(275.0 2211.4) scale(1.0 1.04) translate(-275.0 -2211.4)">0</text>
<text x="275.00" y="2027.15" font-size="56" font-weight="bold" text-anchor="end" transform="translate(275.0 2027.1499999999999) scale(1.0 1.04) translate(-275.0 -2027.1499999999999)">100</text>
<text x="275.00" y="1842.90" font-size="56" font-weight="bold" text-anchor="end" transform="translate(275.0 1842.8999999999999) scale(1.0 1.04) translate(-275.0 -1842.8999999999999)">200</text>
<text x="275.00" y="1658.65" font-size="56" font-weight="bold" text-anchor="end" transform="translate(275.0 1658.6499999999999) scale(1.0 1.04) translate(-275.0 -1658.6499999999999)">300</text>
<text x="275.00" y="1474.40" font-size="56" font-weight="bold" text-anchor="end" transform="translate(275.0 1474.3999999999999) scale(1.0 1.04) translate(-275.0 -1474.3999999999999)">400</text>
<text x="313.40" y="2283.40" font-size="56" font-weight="bold" text-anchor="middle" transform="translate(313.4 2283.4) scale(1.0 1.04) translate(-313.4 -2283.4)">0</text>
<text x="443.51" y="2283.40" font-size="56" font-weight="bold" text-anchor="middle" transform="translate(443.506 2283.4) scale(1.0 1.04) translate(-443.506 -2283.4)">20</text>
<text x="573.61" y="2283.40" font-size="56" font-weight="bold" text-anchor="middle" transform="translate(573.612 2283.4) scale(1.0 1.04) translate(-573.612 -2283.4)">40</text>
<text x="703.72" y="2283.40" font-size="56" font-weight="bold" text-anchor="middle" transform="translate(703.718 2283.4) scale(1.0 1.04) translate(-703.718 -2283.4)">60</text>
<text x="833.82" y="2283.40" font-size="56" font-weight="bold" text-anchor="middle" transform="translate(833.824 2283.4) scale(1.0 1.04) translate(-833.824 -2283.4)">80</text>
<text x="963.93" y="2283.40" font-size="56" font-weight="bold" text-anchor="middle" transform="translate(963.93 2283.4) scale(1.0 1.04) translate(-963.93 -2283.4)">100</text>
<text x="1094.04" y="2283.40" font-size="56" font-weight="bold" text-anchor="middle" transform="translate(1094.036 2283.4) scale(1.0 1.04) translate(-1094.036 -2283.4)">120</text>
<text x="1224.14" y="2283.40" font-size="56" font-weight="bold" text-anchor="middle" transform="translate(1224.1419999999998 2283.4) scale(1.0 1.04) translate(-1224.1419999999998 -2283.4)">140</text>
<text x="1354.25" y="2283.40" font-size="56" font-weight="bold" text-anchor="middle" transform="translate(1354.248 2283.4) scale(1.0 1.04) translate(-1354.248 -2283.4)">160</text>
<text x="866.00" y="2376.20" font-size="61.5" font-weight="bold" text-anchor="middle" transform="translate(866.0 2376.2) scale(1.0 1.03) translate(-866.0 -2376.2)">Time (minutes)</text>
<text x="145.30" y="1821.10" font-size="61.5" font-weight="bold" text-anchor="middle" transform="rotate(-90 145.3 1821.1) translate(145.3 1821.1) scale(1.0 1.03) translate(-145.3 -1821.1)">Insulin (fmol/min)</text>
<text x="408.30" y="1400.70" font-size="35.8" font-weight="normal" text-anchor="middle" transform="translate(408.3 1400.7) scale(1.0 1.04) translate(-408.3 -1400.7)">GLP-1</text>
<text x="408.30" y="1441.50" font-size="35.8" font-weight="normal" text-anchor="middle" transform="translate(408.3 1441.5) scale(1.0 1.04) translate(-408.3 -1441.5)">1nM</text>
<text x="741.10" y="1400.70" font-size="35.8" font-weight="normal" text-anchor="middle" transform="translate(741.1 1400.7) scale(1.0 1.04) translate(-741.1 -1400.7)">GLP-1</text>
<text x="741.10" y="1441.50" font-size="35.8" font-weight="normal" text-anchor="middle" transform="translate(741.1 1441.5) scale(1.0 1.04) translate(-741.1 -1441.5)">1nM</text>
<text x="1061.60" y="1400.70" font-size="35.8" font-weight="normal" text-anchor="middle" transform="translate(1061.6 1400.7) scale(1.0 1.04) translate(-1061.6 -1400.7)">GLP-1</text>
<text x="1061.60" y="1441.50" font-size="35.8" font-weight="normal" text-anchor="middle" transform="translate(1061.6 1441.5) scale(1.0 1.04) translate(-1061.6 -1441.5)">1nM</text>
<text x="1386.40" y="1400.70" font-size="35.8" font-weight="normal" text-anchor="middle" transform="translate(1386.4 1400.7) scale(1.0 1.04) translate(-1386.4 -1400.7)">L-arg</text>
<text x="1386.40" y="1441.50" font-size="35.8" font-weight="normal" text-anchor="middle" transform="translate(1386.4 1441.5) scale(1.0 1.04) translate(-1386.4 -1441.5)">10mM</text>
<text x="34.66" y="1322.20" font-size="130" font-weight="bold" text-anchor="start" transform="translate(34.66 1322.2) scale(0.94 1.0) translate(-34.66 -1322.2)">B</text>
<rect x="378.43" y="2653.70" width="64.98" height="736.30" fill="#d4d4d4"/>
<rect x="703.33" y="2653.70" width="64.98" height="736.30" fill="#d4d4d4"/>
<rect x="1028.23" y="2653.70" width="64.98" height="736.30" fill="#d4d4d4"/>
<rect x="1353.13" y="2653.70" width="64.98" height="736.30" fill="#e0e0e0"/>
<path d="M319.95 3239.20V3177.00M312.70 3177.00H327.20M326.45 3231.80V3164.90M319.20 3164.90H333.70M332.94 3231.80V3160.10M325.69 3160.10H340.19M339.44 3229.10V3149.60M332.19 3149.60H346.69M345.94 3199.30V3103.20M338.69 3103.20H353.19M352.44 3200.00V3100.50M345.19 3100.50H359.69M358.94 3193.20V3093.10M351.69 3093.10H366.19M365.43 3217.60V3133.60M358.18 3133.60H372.68M371.93 3183.10V3076.20M364.68 3076.20H379.18M378.43 3206.80V3115.40M371.18 3115.40H385.68M384.93 3220.30V3148.50M377.68 3148.50H392.18M391.43 3183.10V3098.50M384.18 3098.50H398.68M397.92 3160.80V3074.90M390.67 3074.90H405.17M404.42 3141.90V3074.20M397.17 3074.20H411.67M410.92 3166.20V3093.10M403.67 3093.10H418.17M417.42 3173.60V3089.70M410.17 3089.70H424.67M423.92 3166.20V3074.20M416.67 3074.20H431.17M430.41 3117.40V2988.60M423.16 2988.60H437.66M436.91 3160.80V3071.50M429.66 3071.50H444.16M443.41 3116.00V3015.40M436.16 3015.40H450.66M449.91 3127.30V3051.90M442.66 3051.90H457.16M456.41 3112.80V3047.80M449.16 3047.80H463.66M462.90 3085.00V2976.20M455.65 2976.20H470.15M469.40 3137.40V3058.60M462.15 3058.60H476.65M475.90 3160.80V3098.50M468.65 3098.50H483.15M482.40 3166.20V3092.40M475.15 3092.40H489.65M488.90 3135.10V3053.00M481.65 3053.00H496.15M495.39 3146.00V3063.40M488.14 3063.40H502.64M501.89 3148.00V3068.10M494.64 3068.10H509.14M508.39 3152.70V3062.70M501.14 3062.70H515.64M514.89 3146.00V3053.90M507.64 3053.90H522.14M527.88 3184.50V3114.20M520.63 3114.20H535.13M540.88 3195.30V3139.80M533.63 3139.80H548.13M553.88 3146.00V3059.70M546.63 3059.70H561.13M566.87 3193.90V3125.50M559.62 3125.50H574.12M579.87 3156.90V3085.90M572.62 3085.90H587.12M592.86 3182.60V3106.90M585.61 3106.90H600.11M605.86 3160.30V3073.80M598.61 3073.80H613.11M618.86 3151.50V3067.70M611.61 3067.70H626.11M631.85 3156.90V3090.70M624.60 3090.70H639.10M644.85 3130.50V3063.00M637.60 3063.00H652.10M657.84 3170.40V3113.00M650.59 3113.00H665.09M670.84 3115.70V3025.80M663.59 3025.80H678.09M683.84 3167.70V3108.60M676.59 3108.60H691.09M696.83 3147.60V3079.80M689.58 3079.80H704.08M709.83 3153.30V3093.30M702.58 3093.30H717.08M716.33 3163.00V3095.50M709.08 3095.50H723.58M722.82 3130.50V3050.30M715.57 3050.30H730.07M729.32 3127.00V3053.20M722.07 3053.20H736.57M735.82 3125.80V3055.30M728.57 3055.30H743.07M742.32 3129.00V3056.00M735.07 3056.00H749.57M748.82 3109.20V3045.80M741.57 3045.80H756.07M755.31 3124.00V3046.50M748.06 3046.50H762.56M761.81 3124.30V3060.70M754.56 3060.70H769.06M768.31 3121.80V3075.50M761.06 3075.50H775.56M774.81 3078.90V3010.70M767.56 3010.70H782.06M781.31 3098.50V2974.20M774.06 2974.20H788.56M787.80 3110.00V3052.60M780.55 3052.60H795.05M794.30 3108.60V3038.40M787.05 3038.40H801.55M800.80 3141.80V3079.60M793.55 3079.60H808.05M807.30 3118.80V3049.90M800.05 3049.90H814.55M813.80 3131.60V3077.60M806.55 3077.60H821.05M820.29 3139.70V3075.50M813.04 3075.50H827.54M826.79 3132.00V3043.60M819.54 3043.60H834.04M833.29 3164.30V3096.00M826.04 3096.00H840.54M839.79 3132.70V3092.20M832.54 3092.20H847.04M852.78 3128.60V3043.50M845.53 3043.50H860.03M865.78 3165.80V3098.20M858.53 3098.20H873.03M878.78 3100.30V3001.00M871.53 3001.00H886.03M891.77 3141.50V3061.80M884.52 3061.80H899.02M904.77 3153.60V3090.80M897.52 3090.80H912.02M917.76 3194.20V3135.40M910.51 3135.40H925.01M930.76 3169.90V3100.70M923.51 3100.70H938.01M943.76 3195.50V3140.10M936.51 3140.10H951.01M956.75 3187.40V3132.00M949.50 3132.00H964.00M969.75 3212.00V3172.10M962.50 3172.10H977.00M982.74 3204.20V3150.90M975.49 3150.90H989.99M995.74 3217.60V3168.10M988.49 3168.10H1002.99M1008.74 3222.00V3175.50M1001.49 3175.50H1015.99M1021.73 3177.40V3126.60M1014.48 3126.60H1028.98M1034.73 3220.40V3188.80M1027.48 3188.80H1041.98M1041.23 3195.00V3161.30M1033.98 3161.30H1048.48M1047.72 3192.40V3152.30M1040.47 3152.30H1054.97M1054.22 3161.10V3104.30M1046.97 3104.30H1061.47M1060.72 3163.10V3114.50M1053.47 3114.50H1067.97M1067.22 3174.00V3136.80M1059.97 3136.80H1074.47M1073.72 3153.40V3087.40M1066.47 3087.40H1080.97M1080.21 3128.60V3071.20M1072.96 3071.20H1087.46M1086.71 3150.00V3071.00M1079.46 3071.00H1093.96M1093.21 3102.80V3037.60M1085.96 3037.60H1100.46M1099.71 3122.30V3049.30M1092.46 3049.30H1106.96M1106.21 3091.90V3002.00M1098.96 3002.00H1113.46M1112.70 3125.00V3052.70M1105.45 3052.70H1119.95M1119.20 3129.70V3077.70M1111.95 3077.70H1126.45M1125.70 3133.80V3081.10M1118.45 3081.10H1132.95M1132.20 3150.70V3119.60M1124.95 3119.60H1139.45M1138.70 3154.10V3093.90M1131.45 3093.90H1145.95M1145.19 3137.80V3085.10M1137.94 3085.10H1152.44M1151.69 3168.90V3102.00M1144.44 3102.00H1158.94M1158.19 3161.50V3082.40M1150.94 3082.40H1165.44M1164.69 3188.50V3132.40M1157.44 3132.40H1171.94M1177.68 3188.50V3116.50M1170.43 3116.50H1184.93M1190.68 3194.60V3129.70M1183.43 3129.70H1197.93M1203.68 3193.20V3120.00M1196.43 3120.00H1210.93M1216.67 3195.40V3146.80M1209.42 3146.80H1223.92M1229.67 3251.60V3210.40M1222.42 3210.40H1236.92M1242.66 3250.90V3203.60M1235.41 3203.60H1249.91M1255.66 3253.60V3210.80M1248.41 3210.80H1262.91M1268.66 3267.80V3243.50M1261.41 3243.50H1275.91M1281.65 3225.30V3194.20M1274.40 3194.20H1288.90M1294.65 3190.10V3144.60M1287.40 3144.60H1301.90M1307.64 3214.50V3184.30M1300.39 3184.30H1314.89M1320.64 3190.10V3136.10M1313.39 3136.10H1327.89M1333.64 3202.80V3159.70M1326.39 3159.70H1340.89M1346.63 3218.00V3182.00M1339.38 3182.00H1353.88M1359.63 3162.80V3097.00M1352.38 3097.00H1366.88M1366.13 3175.00V3125.10M1358.88 3125.10H1373.38M1372.62 3143.70V3087.10M1365.37 3087.10H1379.87M1379.12 3197.90V3138.70M1371.87 3138.70H1386.37M1385.62 3186.20V3149.00M1378.37 3149.00H1392.87M1392.12 3169.70V3102.60M1384.87 3102.60H1399.37M1398.62 3167.60V3110.00M1391.37 3110.00H1405.87M1405.11 3186.20V3150.40M1397.86 3150.40H1412.36M1411.61 3201.60V3175.90M1404.36 3175.90H1418.86M1418.11 3208.50V3182.50M1410.86 3182.50H1425.36" stroke="#000" stroke-width="3.6" fill="none"/>
<path d="M319.95 3239.20 L326.45 3231.80 L332.94 3231.80 L339.44 3229.10 L345.94 3199.30 L352.44 3200.00 L358.94 3193.20 L365.43 3217.60 L371.93 3183.10 L378.43 3206.80 L384.93 3220.30 L391.43 3183.10 L397.92 3160.80 L404.42 3141.90 L410.92 3166.20 L417.42 3173.60 L423.92 3166.20 L430.41 3117.40 L436.91 3160.80 L443.41 3116.00 L449.91 3127.30 L456.41 3112.80 L462.90 3085.00 L469.40 3137.40 L475.90 3160.80 L482.40 3166.20 L488.90 3135.10 L495.39 3146.00 L501.89 3148.00 L508.39 3152.70 L514.89 3146.00 L527.88 3184.50 L540.88 3195.30 L553.88 3146.00 L566.87 3193.90 L579.87 3156.90 L592.86 3182.60 L605.86 3160.30 L618.86 3151.50 L631.85 3156.90 L644.85 3130.50 L657.84 3170.40 L670.84 3115.70 L683.84 3167.70 L696.83 3147.60 L709.83 3153.30 L716.33 3163.00 L722.82 3130.50 L729.32 3127.00 L735.82 3125.80 L742.32 3129.00 L748.82 3109.20 L755.31 3124.00 L761.81 3124.30 L768.31 3121.80 L774.81 3078.90 L781.31 3098.50 L787.80 3110.00 L794.30 3108.60 L800.80 3141.80 L807.30 3118.80 L813.80 3131.60 L820.29 3139.70 L826.79 3132.00 L833.29 3164.30 L839.79 3132.70 L852.78 3128.60 L865.78 3165.80 L878.78 3100.30 L891.77 3141.50 L904.77 3153.60 L917.76 3194.20 L930.76 3169.90 L943.76 3195.50 L956.75 3187.40 L969.75 3212.00 L982.74 3204.20 L995.74 3217.60 L1008.74 3222.00 L1021.73 3177.40 L1034.73 3220.40 L1041.23 3195.00 L1047.72 3192.40 L1054.22 3161.10 L1060.72 3163.10 L1067.22 3174.00 L1073.72 3153.40 L1080.21 3128.60 L1086.71 3150.00 L1093.21 3102.80 L1099.71 3122.30 L1106.21 3091.90 L1112.70 3125.00 L1119.20 3129.70 L1125.70 3133.80 L1132.20 3150.70 L1138.70 3154.10 L1145.19 3137.80 L1151.69 3168.90 L1158.19 3161.50 L1164.69 3188.50 L1177.68 3188.50 L1190.68 3194.60 L1203.68 3193.20 L1216.67 3195.40 L1229.67 3251.60 L1242.66 3250.90 L1255.66 3253.60 L1268.66 3267.80 L1281.65 3225.30 L1294.65 3190.10 L1307.64 3214.50 L1320.64 3190.10 L1333.64 3202.80 L1346.63 3218.00 L1359.63 3162.80 L1366.13 3175.00 L1372.62 3143.70 L1379.12 3197.90 L1385.62 3186.20 L1392.12 3169.70 L1398.62 3167.60 L1405.11 3186.20 L1411.61 3201.60 L1418.11 3208.50" stroke="#000" stroke-width="3.6" fill="none" stroke-linejoin="round"/>
<g fill="#000"><circle cx="319.95" cy="3239.20" r="7.6"/><circle cx="326.45" cy="3231.80" r="7.6"/><circle cx="332.94" cy="3231.80" r="7.6"/><circle cx="339.44" cy="3229.10" r="7.6"/><circle cx="345.94" cy="3199.30" r="7.6"/><circle cx="352.44" cy="3200.00" r="7.6"/><circle cx="358.94" cy="3193.20" r="7.6"/><circle cx="365.43" cy="3217.60" r="7.6"/><circle cx="371.93" cy="3183.10" r="7.6"/><circle cx="378.43" cy="3206.80" r="7.6"/><circle cx="384.93" cy="3220.30" r="7.6"/><circle cx="391.43" cy="3183.10" r="7.6"/><circle cx="397.92" cy="3160.80" r="7.6"/><circle cx="404.42" cy="3141.90" r="7.6"/><circle cx="410.92" cy="3166.20" r="7.6"/><circle cx="417.42" cy="3173.60" r="7.6"/><circle cx="423.92" cy="3166.20" r="7.6"/><circle cx="430.41" cy="3117.40" r="7.6"/><circle cx="436.91" cy="3160.80" r="7.6"/><circle cx="443.41" cy="3116.00" r="7.6"/><circle cx="449.91" cy="3127.30" r="7.6"/><circle cx="456.41" cy="3112.80" r="7.6"/><circle cx="462.90" cy="3085.00" r="7.6"/><circle cx="469.40" cy="3137.40" r="7.6"/><circle cx="475.90" cy="3160.80" r="7.6"/><circle cx="482.40" cy="3166.20" r="7.6"/><circle cx="488.90" cy="3135.10" r="7.6"/><circle cx="495.39" cy="3146.00" r="7.6"/><circle cx="501.89" cy="3148.00" r="7.6"/><circle cx="508.39" cy="3152.70" r="7.6"/><circle cx="514.89" cy="3146.00" r="7.6"/><circle cx="527.88" cy="3184.50" r="7.6"/><circle cx="540.88" cy="3195.30" r="7.6"/><circle cx="553.88" cy="3146.00" r="7.6"/><circle cx="566.87" cy="3193.90" r="7.6"/><circle cx="579.87" cy="3156.90" r="7.6"/><circle cx="592.86" cy="3182.60" r="7.6"/><circle cx="605.86" cy="3160.30" r="7.6"/><circle cx="618.86" cy="3151.50" r="7.6"/><circle cx="631.85" cy="3156.90" r="7.6"/><circle cx="644.85" cy="3130.50" r="7.6"/><circle cx="657.84" cy="3170.40" r="7.6"/><circle cx="670.84" cy="3115.70" r="7.6"/><circle cx="683.84" cy="3167.70" r="7.6"/><circle cx="696.83" cy="3147.60" r="7.6"/><circle cx="709.83" cy="3153.30" r="7.6"/><circle cx="716.33" cy="3163.00" r="7.6"/><circle cx="722.82" cy="3130.50" r="7.6"/><circle cx="729.32" cy="3127.00" r="7.6"/><circle cx="735.82" cy="3125.80" r="7.6"/><circle cx="742.32" cy="3129.00" r="7.6"/><circle cx="748.82" cy="3109.20" r="7.6"/><circle cx="755.31" cy="3124.00" r="7.6"/><circle cx="761.81" cy="3124.30" r="7.6"/><circle cx="768.31" cy="3121.80" r="7.6"/><circle cx="774.81" cy="3078.90" r="7.6"/><circle cx="781.31" cy="3098.50" r="7.6"/><circle cx="787.80" cy="3110.00" r="7.6"/><circle cx="794.30" cy="3108.60" r="7.6"/><circle cx="800.80" cy="3141.80" r="7.6"/><circle cx="807.30" cy="3118.80" r="7.6"/><circle cx="813.80" cy="3131.60" r="7.6"/><circle cx="820.29" cy="3139.70" r="7.6"/><circle cx="826.79" cy="3132.00" r="7.6"/><circle cx="833.29" cy="3164.30" r="7.6"/><circle cx="839.79" cy="3132.70" r="7.6"/><circle cx="852.78" cy="3128.60" r="7.6"/><circle cx="865.78" cy="3165.80" r="7.6"/><circle cx="878.78" cy="3100.30" r="7.6"/><circle cx="891.77" cy="3141.50" r="7.6"/><circle cx="904.77" cy="3153.60" r="7.6"/><circle cx="917.76" cy="3194.20" r="7.6"/><circle cx="930.76" cy="3169.90" r="7.6"/><circle cx="943.76" cy="3195.50" r="7.6"/><circle cx="956.75" cy="3187.40" r="7.6"/><circle cx="969.75" cy="3212.00" r="7.6"/><circle cx="982.74" cy="3204.20" r="7.6"/><circle cx="995.74" cy="3217.60" r="7.6"/><circle cx="1008.74" cy="3222.00" r="7.6"/><circle cx="1021.73" cy="3177.40" r="7.6"/><circle cx="1034.73" cy="3220.40" r="7.6"/><circle cx="1041.23" cy="3195.00" r="7.6"/><circle cx="1047.72" cy="3192.40" r="7.6"/><circle cx="1054.22" cy="3161.10" r="7.6"/><circle cx="1060.72" cy="3163.10" r="7.6"/><circle cx="1067.22" cy="3174.00" r="7.6"/><circle cx="1073.72" cy="3153.40" r="7.6"/><circle cx="1080.21" cy="3128.60" r="7.6"/><circle cx="1086.71" cy="3150.00" r="7.6"/><circle cx="1093.21" cy="3102.80" r="7.6"/><circle cx="1099.71" cy="3122.30" r="7.6"/><circle cx="1106.21" cy="3091.90" r="7.6"/><circle cx="1112.70" cy="3125.00" r="7.6"/><circle cx="1119.20" cy="3129.70" r="7.6"/><circle cx="1125.70" cy="3133.80" r="7.6"/><circle cx="1132.20" cy="3150.70" r="7.6"/><circle cx="1138.70" cy="3154.10" r="7.6"/><circle cx="1145.19" cy="3137.80" r="7.6"/><circle cx="1151.69" cy="3168.90" r="7.6"/><circle cx="1158.19" cy="3161.50" r="7.6"/><circle cx="1164.69" cy="3188.50" r="7.6"/><circle cx="1177.68" cy="3188.50" r="7.6"/><circle cx="1190.68" cy="3194.60" r="7.6"/><circle cx="1203.68" cy="3193.20" r="7.6"/><circle cx="1216.67" cy="3195.40" r="7.6"/><circle cx="1229.67" cy="3251.60" r="7.6"/><circle cx="1242.66" cy="3250.90" r="7.6"/><circle cx="1255.66" cy="3253.60" r="7.6"/><circle cx="1268.66" cy="3267.80" r="7.6"/><circle cx="1281.65" cy="3225.30" r="7.6"/><circle cx="1294.65" cy="3190.10" r="7.6"/><circle cx="1307.64" cy="3214.50" r="7.6"/><circle cx="1320.64" cy="3190.10" r="7.6"/><circle cx="1333.64" cy="3202.80" r="7.6"/><circle cx="1346.63" cy="3218.00" r="7.6"/><circle cx="1359.63" cy="3162.80" r="7.6"/><circle cx="1366.13" cy="3175.00" r="7.6"/><circle cx="1372.62" cy="3143.70" r="7.6"/><circle cx="1379.12" cy="3197.90" r="7.6"/><circle cx="1385.62" cy="3186.20" r="7.6"/><circle cx="1392.12" cy="3169.70" r="7.6"/><circle cx="1398.62" cy="3167.60" r="7.6"/><circle cx="1405.11" cy="3186.20" r="7.6"/><circle cx="1411.61" cy="3201.60" r="7.6"/><circle cx="1418.11" cy="3208.50" r="7.6"/></g>
<path d="M313.45 2649.60V3393.70M309.75 3390.00H1421.81M282.0 3390.00H313.45M282.0 3205.82H313.45M282.0 3021.65H313.45M282.0 2837.48H313.45M282.0 2653.30H313.45M313.45 3390.00V3421.80M378.43 3390.00V3407.70M443.41 3390.00V3421.80M508.39 3390.00V3407.70M573.37 3390.00V3421.80M638.35 3390.00V3407.70M703.33 3390.00V3421.80M768.31 3390.00V3407.70M833.29 3390.00V3421.80M898.27 3390.00V3407.70M963.25 3390.00V3421.80M1028.23 3390.00V3407.70M1093.21 3390.00V3421.80M1158.19 3390.00V3407.70M1223.17 3390.00V3421.80M1288.15 3390.00V3407.70M1353.13 3390.00V3421.80M1418.11 3390.00V3407.70" stroke="#000" stroke-width="7.4" fill="none" stroke-linecap="butt"/>
<text x="275.00" y="3410.80" font-size="56" font-weight="bold" text-anchor="end" transform="translate(275.0 3410.8) scale(1.0 1.04) translate(-275.0 -3410.8)">0</text>
<text x="275.00" y="3226.62" font-size="56" font-weight="bold" text-anchor="end" transform="translate(275.0 3226.625) scale(1.0 1.04) translate(-275.0 -3226.625)">500</text>
<text x="275.00" y="3042.45" font-size="56" font-weight="bold" text-anchor="end" transform="translate(275.0 3042.4500000000003) scale(1.0 1.04) translate(-275.0 -3042.4500000000003)">1000</text>
<text x="275.00" y="2858.28" font-size="56" font-weight="bold" text-anchor="end" transform="translate(275.0 2858.2750000000005) scale(1.0 1.04) translate(-275.0 -2858.2750000000005)">1500</text>
<text x="275.00" y="2674.10" font-size="56" font-weight="bold" text-anchor="end" transform="translate(275.0 2674.1000000000004) scale(1.0 1.04) translate(-275.0 -2674.1000000000004)">2000</text>
<text x="313.45" y="3482.80" font-size="56" font-weight="bold" text-anchor="middle" transform="translate(313.45 3482.8) scale(1.0 1.04) translate(-313.45 -3482.8)">0</text>
<text x="443.41" y="3482.80" font-size="56" font-weight="bold" text-anchor="middle" transform="translate(443.40999999999997 3482.8) scale(1.0 1.04) translate(-443.40999999999997 -3482.8)">20</text>
<text x="573.37" y="3482.80" font-size="56" font-weight="bold" text-anchor="middle" transform="translate(573.37 3482.8) scale(1.0 1.04) translate(-573.37 -3482.8)">40</text>
<text x="703.33" y="3482.80" font-size="56" font-weight="bold" text-anchor="middle" transform="translate(703.3299999999999 3482.8) scale(1.0 1.04) translate(-703.3299999999999 -3482.8)">60</text>
<text x="833.29" y="3482.80" font-size="56" font-weight="bold" text-anchor="middle" transform="translate(833.29 3482.8) scale(1.0 1.04) translate(-833.29 -3482.8)">80</text>
<text x="963.25" y="3482.80" font-size="56" font-weight="bold" text-anchor="middle" transform="translate(963.25 3482.8) scale(1.0 1.04) translate(-963.25 -3482.8)">100</text>
<text x="1093.21" y="3482.80" font-size="56" font-weight="bold" text-anchor="middle" transform="translate(1093.21 3482.8) scale(1.0 1.04) translate(-1093.21 -3482.8)">120</text>
<text x="1223.17" y="3482.80" font-size="56" font-weight="bold" text-anchor="middle" transform="translate(1223.17 3482.8) scale(1.0 1.04) translate(-1223.17 -3482.8)">140</text>
<text x="1353.13" y="3482.80" font-size="56" font-weight="bold" text-anchor="middle" transform="translate(1353.13 3482.8) scale(1.0 1.04) translate(-1353.13 -3482.8)">160</text>
<text x="866.00" y="3574.10" font-size="61.5" font-weight="bold" text-anchor="middle" transform="translate(866.0 3574.1) scale(1.0 1.03) translate(-866.0 -3574.1)">Time (minutes)</text>
<text x="114.50" y="3019.80" font-size="61.5" font-weight="bold" text-anchor="middle" transform="rotate(-90 114.5 3019.8) translate(114.5 3019.8) scale(1.0 1.03) translate(-114.5 -3019.8)">Insulin (fmol/min)</text>
<text x="408.30" y="2599.80" font-size="35.8" font-weight="normal" text-anchor="middle" transform="translate(408.3 2599.8) scale(1.0 1.04) translate(-408.3 -2599.8)">GLP-1</text>
<text x="408.30" y="2640.90" font-size="35.8" font-weight="normal" text-anchor="middle" transform="translate(408.3 2640.9) scale(1.0 1.04) translate(-408.3 -2640.9)">1nM</text>
<text x="741.10" y="2599.80" font-size="35.8" font-weight="normal" text-anchor="middle" transform="translate(741.1 2599.8) scale(1.0 1.04) translate(-741.1 -2599.8)">GLP-1</text>
<text x="741.10" y="2640.90" font-size="35.8" font-weight="normal" text-anchor="middle" transform="translate(741.1 2640.9) scale(1.0 1.04) translate(-741.1 -2640.9)">1nM</text>
<text x="1061.60" y="2599.80" font-size="35.8" font-weight="normal" text-anchor="middle" transform="translate(1061.6 2599.8) scale(1.0 1.04) translate(-1061.6 -2599.8)">GLP-1</text>
<text x="1061.60" y="2640.90" font-size="35.8" font-weight="normal" text-anchor="middle" transform="translate(1061.6 2640.9) scale(1.0 1.04) translate(-1061.6 -2640.9)">1nM</text>
<text x="1386.40" y="2599.80" font-size="35.8" font-weight="normal" text-anchor="middle" transform="translate(1386.4 2599.8) scale(1.0 1.04) translate(-1386.4 -2599.8)">L-arg</text>
<text x="1386.40" y="2640.90" font-size="35.8" font-weight="normal" text-anchor="middle" transform="translate(1386.4 2640.9) scale(1.0 1.04) translate(-1386.4 -2640.9)">10mM</text>
<text x="34.36" y="2560.00" font-size="130" font-weight="bold" text-anchor="start" transform="translate(34.36 2560.0) scale(0.911 1.0) translate(-34.36 -2560.0)">C</text>
<path fill="#fff" d="M152.94 623.94H163.47V631.85H152.94ZM171.14 623.94H180.94V631.85H171.14ZM152.94 439.72H163.47V447.63H152.94ZM171.14 439.72H180.94V447.63H171.14ZM1119.46 1065.19H1129.99V1073.10H1119.46ZM1137.66 1065.19H1147.46V1073.10H1137.66ZM1289.51 1065.19H1300.04V1073.10H1289.51ZM1307.71 1065.19H1317.51V1073.10H1307.71ZM469.69 185.02H477.24V189.50H469.69ZM480.39 185.02H487.59V189.50H480.39ZM403.06 225.82H410.62V230.30H403.06ZM413.77 225.82H420.96V230.30H413.77ZM645.04 185.02H652.59V189.50H645.04ZM655.74 185.02H662.94V189.50H655.74ZM578.41 225.82H585.97V230.30H578.41ZM589.12 225.82H596.31V230.30H589.12ZM1071.19 185.02H1078.74V189.50H1071.19ZM1081.89 185.02H1089.09V189.50H1081.89ZM1004.56 225.82H1012.12V230.30H1004.56ZM1015.27 225.82H1022.46V230.30H1015.27ZM1329.26 225.82H1336.81V230.30H1329.26ZM1339.96 225.82H1347.16V230.30H1339.96ZM184.09 2020.74H194.62V2028.65H184.09ZM202.29 2020.74H212.09V2028.65H202.29ZM919.74 2276.99H930.27V2284.90H919.74ZM937.94 2276.99H947.74V2284.90H937.94ZM1049.85 2276.99H1060.38V2284.90H1049.85ZM1068.05 2276.99H1077.85V2284.90H1068.05ZM1179.95 2276.99H1190.48V2284.90H1179.95ZM1198.15 2276.99H1207.95V2284.90H1198.15ZM1310.06 2276.99H1320.59V2284.90H1310.06ZM1328.26 2276.99H1338.06V2284.90H1328.26ZM441.54 1397.72H449.09V1402.20H441.54ZM452.24 1397.72H459.44V1402.20H452.24ZM374.91 1438.52H382.47V1443.00H374.91ZM385.62 1438.52H392.81V1443.00H385.62ZM774.33 1397.72H781.89V1402.20H774.33ZM785.04 1397.72H792.23V1402.20H785.04ZM707.71 1438.52H715.27V1443.00H707.71ZM718.42 1438.52H725.61V1443.00H718.42ZM1094.84 1397.72H1102.39V1402.20H1094.84ZM1105.54 1397.72H1112.74V1402.20H1105.54ZM1028.21 1438.52H1035.77V1443.00H1028.21ZM1038.92 1438.52H1046.11V1443.00H1038.92ZM1338.11 1438.52H1345.66V1443.00H1338.11ZM1348.81 1438.52H1356.01V1443.00H1348.81ZM152.94 3036.04H163.47V3043.95H152.94ZM171.14 3036.04H180.94V3043.95H171.14ZM152.94 2851.87H163.47V2859.78H152.94ZM171.14 2851.87H180.94V2859.78H171.14ZM919.06 3476.39H929.59V3484.30H919.06ZM937.26 3476.39H947.06V3484.30H937.26ZM1049.02 3476.39H1059.55V3484.30H1049.02ZM1067.22 3476.39H1077.02V3484.30H1067.22ZM1178.98 3476.39H1189.51V3484.30H1178.98ZM1197.18 3476.39H1206.98V3484.30H1197.18ZM1308.94 3476.39H1319.47V3484.30H1308.94ZM1327.14 3476.39H1336.94V3484.30H1327.14ZM441.54 2596.82H449.09V2601.30H441.54ZM452.24 2596.82H459.44V2601.30H452.24ZM374.91 2637.92H382.47V2642.40H374.91ZM385.62 2637.92H392.81V2642.40H385.62ZM774.33 2596.82H781.89V2601.30H774.33ZM785.04 2596.82H792.23V2601.30H785.04ZM707.71 2637.92H715.27V2642.40H707.71ZM718.42 2637.92H725.61V2642.40H718.42ZM1094.84 2596.82H1102.39V2601.30H1094.84ZM1105.54 2596.82H1112.74V2601.30H1105.54ZM1028.21 2637.92H1035.77V2642.40H1028.21ZM1038.92 2637.92H1046.11V2642.40H1038.92ZM1338.11 2637.92H1345.66V2642.40H1338.11ZM1348.81 2637.92H1356.01V2642.40H1348.81Z"/>
</svg></body></html>
